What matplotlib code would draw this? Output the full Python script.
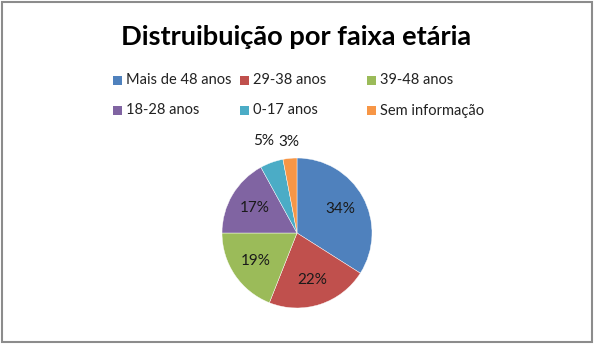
import numpy as np
import matplotlib
matplotlib.use("Agg")
import matplotlib.pyplot as plt
from matplotlib.patches import Rectangle

plt.rcParams['font.family'] = ['Lato', 'DejaVu Sans']

# Age groups and their share (%)
categories = ['Mais de 48 anos', '29-38 anos', '39-48 anos',
              '18-28 anos', '0-17 anos', 'Sem informação']
shares = [34, 22, 19, 17, 5, 3]
colors = ['#4F81BD', '#C0504D', '#9BBB59', '#8064A2', '#4BACC6', '#F79646']
title = 'Distruibuição por faixa etária'

W, H = 594, 350
fig = plt.figure(figsize=(W / 100, H / 100), dpi=100)

def fx(px):
    return px / W

def fy(py):
    return 1 - py / H

# chart border
fig.add_artist(Rectangle((fx(1.5), fy(342)), fx(590), 340.5 / H, transform=fig.transFigure,
                         fill=False, edgecolor='#8c8c8c', linewidth=1.5))

fig.text(fx(296), fy(37), title, ha='center', va='center',
         fontsize=19.6, fontweight='bold', color='black')

# legend: 3 columns, 2 rows
col_x = [113, 240, 367]
row_y = [80.5, 110.5]
for i, (lab, c) in enumerate(zip(categories, colors)):
    x, y = col_x[i % 3], row_y[i // 3]
    fig.add_artist(Rectangle((fx(x), fy(y + 4.5)), fx(9), 9 / H,
                             transform=fig.transFigure, facecolor=c, edgecolor='none'))
    fig.text(fx(x + 13), fy(y), lab, ha='left', va='center',
             fontsize=10.5, color='#222222')

# pie, centre (297, 233), radius 75 px
cx, cy, r = 297, 233, 75
ax = fig.add_axes([fx(cx - r), fy(cy + r), fx(2 * r), 2 * r / H])
wedges, _ = ax.pie(shares, colors=colors, startangle=90, counterclock=False,
                   radius=1, wedgeprops=dict(edgecolor='white', linewidth=0.3))
ax.set_xlim(-1, 1)
ax.set_ylim(-1, 1)
ax.set_aspect('equal')
ax.axis('off')

# percentage labels: inside for big slices, outside for small ones
dists = [0.66, 0.66, 0.66, 0.66, 1.30, 1.22]
for w, v, d in zip(wedges, shares, dists):
    ang = np.deg2rad((w.theta1 + w.theta2) / 2)
    ax.text(d * np.cos(ang), d * np.sin(ang), f'{v}%', ha='center', va='center',
            fontsize=11, color='#1a1a1a', clip_on=False)

fig.savefig('out.png', dpi=100)
